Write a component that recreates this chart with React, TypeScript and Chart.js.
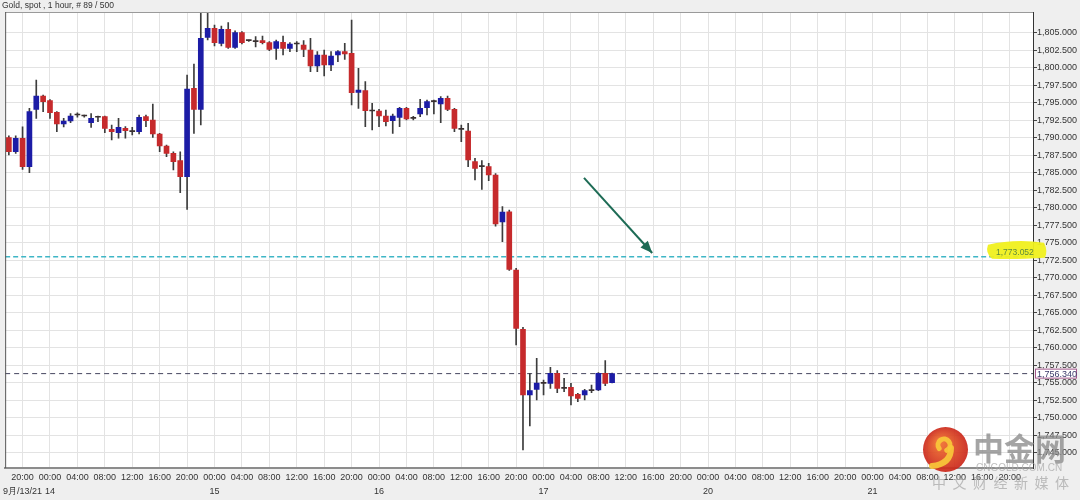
import React, { useEffect, useRef } from "react";
import { Chart, registerables } from "chart.js";

Chart.register(...registerables);

// ---- data (hourly candles, x = trading-hour index, 0 = Sep 13 20:00) ----
const firstCandleHour = -2;
const opens = [
  1790.05, 1788.04, 1789.96, 1785.9, 1794.1, 1796.0, 1795.33, 1793.67, 1792.0, 1792.43,
  1793.29, 1793.14, 1792.19, 1792.96, 1793.05, 1791.24, 1790.76, 1791.38, 1790.9, 1790.9,
  1793.05, 1792.57, 1790.57, 1788.86, 1787.81, 1786.76, 1784.48, 1797.1, 1794.1, 1804.38,
  1805.67, 1803.52, 1805.52, 1802.95, 1805.05, 1803.9, 1803.76, 1803.9, 1803.62, 1802.81,
  1803.67, 1802.81, 1803.43, 1803.29, 1802.57, 1800.29, 1801.86, 1800.43, 1801.86, 1802.33,
  1802.1, 1796.5, 1796.76, 1793.86, 1793.86, 1793.14, 1792.48, 1792.95, 1794.24, 1792.81,
  1793.43, 1794.33, 1795.19, 1794.86, 1795.67, 1794.1, 1791.24, 1791.0, 1786.62, 1785.9,
  1785.9, 1784.71, 1778.0, 1779.47, 1771.14, 1762.67, 1753.29, 1754.1, 1754.95, 1754.95,
  1756.38, 1754.24, 1754.38, 1753.38, 1753.29, 1753.9, 1754.0, 1756.38, 1755.05,
];
const highs = [
  1790.3, 1790.3, 1791.6, 1794.24, 1798.29, 1796.14, 1795.5, 1793.76, 1792.8, 1793.5,
  1793.6, 1793.29, 1793.5, 1793.14, 1793.14, 1791.86, 1792.8, 1791.62, 1791.52, 1793.29,
  1793.29, 1794.86, 1790.67, 1789.0, 1788.04, 1788.04, 1799.0, 1800.57, 1807.8, 1808.1,
  1806.14, 1806.0, 1806.5, 1805.3, 1805.2, 1804.0, 1804.5, 1804.57, 1803.76, 1804.0,
  1804.57, 1803.62, 1803.76, 1803.9, 1804.24, 1802.33, 1802.57, 1802.33, 1802.48, 1803.52,
  1806.86, 1799.95, 1798.05, 1794.95, 1794.1, 1794.0, 1793.43, 1794.38, 1794.38, 1793.1,
  1795.52, 1795.43, 1795.43, 1795.9, 1796.0, 1794.24, 1791.86, 1792.1, 1787.1, 1786.76,
  1786.38, 1784.9, 1780.19, 1779.7, 1771.38, 1762.95, 1756.38, 1758.52, 1755.43, 1757.24,
  1756.76, 1755.67, 1754.95, 1753.52, 1754.1, 1754.71, 1756.48, 1758.19, 1756.4,
];
const lows = [
  1787.6, 1787.8, 1785.5, 1785.04, 1792.8, 1793.76, 1792.8, 1790.9, 1791.6, 1792.2,
  1792.96, 1792.96, 1791.5, 1792.33, 1790.76, 1789.71, 1789.96, 1789.96, 1790.43, 1790.57,
  1791.62, 1790.1, 1788.04, 1787.33, 1785.43, 1782.19, 1779.81, 1790.67, 1791.86, 1804.0,
  1803.14, 1803.14, 1802.8, 1802.8, 1803.43, 1803.8, 1803.0, 1803.43, 1802.48, 1801.24,
  1801.86, 1802.33, 1802.33, 1801.62, 1799.48, 1799.48, 1798.86, 1799.62, 1800.9, 1801.24,
  1794.71, 1794.24, 1791.62, 1791.14, 1791.62, 1791.71, 1790.67, 1791.62, 1792.57, 1792.57,
  1793.05, 1793.29, 1793.43, 1792.19, 1793.9, 1790.9, 1789.48, 1785.9, 1784.0, 1782.67,
  1783.9, 1777.4, 1775.19, 1771.1, 1760.43, 1745.43, 1748.86, 1752.57, 1753.29, 1754.24,
  1753.62, 1753.76, 1751.86, 1752.33, 1752.57, 1753.62, 1753.9, 1754.62, 1755.0,
];
const closes = [
  1788.04, 1789.96, 1785.9, 1793.76, 1796.0, 1795.19, 1793.62, 1792.0, 1792.43, 1793.14,
  1793.29, 1793.14, 1792.8, 1792.96, 1791.38, 1790.9, 1791.52, 1791.05, 1790.9, 1792.96,
  1792.48, 1790.57, 1788.86, 1787.81, 1786.62, 1784.48, 1797.0, 1794.1, 1804.24, 1805.67,
  1803.62, 1805.52, 1802.95, 1805.05, 1803.62, 1803.9, 1803.76, 1803.62, 1802.67, 1803.76,
  1802.81, 1803.43, 1803.43, 1802.67, 1800.29, 1801.86, 1800.43, 1801.71, 1802.33, 1802.0,
  1796.48, 1796.85, 1793.9, 1793.86, 1793.14, 1792.33, 1793.14, 1794.24, 1792.71, 1792.81,
  1794.24, 1795.19, 1795.19, 1795.67, 1794.1, 1791.38, 1791.24, 1786.86, 1785.67, 1785.9,
  1784.71, 1777.71, 1779.43, 1771.24, 1762.81, 1753.29, 1753.9, 1755.0, 1754.95, 1756.38,
  1754.24, 1754.24, 1753.14, 1752.81, 1753.9, 1753.9, 1756.38, 1754.95, 1756.34,
];

const markedLevel = 1773.052;
const currentLevel = 1756.34;
const arrowFrom = { x: 81.9, y: 1784.3 };
const arrowTo = { x: 91.85, y: 1773.57 };

const tickHours = [
  0, 4, 8, 12, 16, 20, 24, 28, 32, 36, 40, 44, 48, 52, 56, 60, 64, 68, 72, 76, 80, 84, 88,
  92, 96, 100, 104, 108, 112, 116, 120, 124, 128, 132, 136, 140, 144,
];
const timeCycle = ["20:00", "00:00", "04:00", "08:00", "12:00", "16:00"];
const dateTickHours = [0, 4, 28, 52, 76, 100, 124];
const dateTickLabels = ["9月/13/21", "14", "15", "16", "17", "20", "21"];
const yTicks = [
  1745, 1747.5, 1750, 1752.5, 1755, 1757.5, 1760, 1762.5, 1765, 1767.5, 1770, 1772.5, 1775,
  1777.5, 1780, 1782.5, 1785, 1787.5, 1790, 1792.5, 1795, 1797.5, 1800, 1802.5, 1805,
];

const X_MIN = -2.54;
const X_MAX = 147.4;
const Y_MIN = 1742.857;
const Y_MAX = 1808.0;

const FONT = "'Liberation Sans', Arial, sans-serif";
const CJK = "'Noto Sans CJK SC', sans-serif";
const UP = "#1c1ca6";
const DOWN = "#c62a2c";
const DOJI = "#3a3030";

const fmt = (v: number) =>
  v.toLocaleString("en-US", { minimumFractionDigits: 3, maximumFractionDigits: 3 });

const bgPlugin = {
  id: "bgPlugin",
  beforeDraw(chart: any) {
    const { ctx, chartArea: a } = chart;
    ctx.save();
    ctx.fillStyle = "#efefef";
    ctx.fillRect(0, 0, chart.width, chart.height);
    ctx.fillStyle = "#ffffff";
    ctx.fillRect(a.left, a.top, a.right - a.left, a.bottom - a.top);
    ctx.restore();
  },
  afterDraw(chart: any) {
    const { ctx, chartArea: a } = chart;
    ctx.save();
    // frame
    ctx.strokeStyle = "#9a9a9a";
    ctx.lineWidth = 1;
    ctx.beginPath();
    ctx.moveTo(a.left, a.top + 0.5);
    ctx.lineTo(a.right, a.top + 0.5);
    ctx.stroke();
    ctx.strokeStyle = "#555";
    ctx.beginPath();
    ctx.moveTo(a.left + 0.5, a.top);
    ctx.lineTo(a.left + 0.5, a.bottom);
    ctx.stroke();
    // title
    ctx.fillStyle = "#333";
    ctx.font = `8.5px ${FONT}`;
    ctx.textBaseline = "middle";
    ctx.textAlign = "left";
    ctx.fillText(`Gold, spot , 1 hour, # ${closes.length} / 500`, 2, 5.5);

    const ys = chart.scales.y;
    // highlighted level label
    const yl = ys.getPixelForValue(markedLevel);
    ctx.fillStyle = "rgba(240,240,30,0.95)";
    ctx.beginPath();
    ctx.moveTo(988, yl - 12);
    ctx.quadraticCurveTo(1015, yl - 18, 1044, yl - 14);
    ctx.quadraticCurveTo(1048, yl - 6, 1045, yl + 1);
    ctx.quadraticCurveTo(1015, yl + 3, 992, yl + 2);
    ctx.quadraticCurveTo(985, yl - 4, 988, yl - 12);
    ctx.fill();
    ctx.fillStyle = "#5d8a3c";
    ctx.font = `8.5px ${FONT}`;
    ctx.fillText(fmt(markedLevel), 996, yl - 4);

    // current price box
    const yc = ys.getPixelForValue(currentLevel);
    ctx.fillStyle = "#ffffff";
    ctx.fillRect(1035, yc - 5, 42, 10);
    ctx.strokeStyle = "#a3588c";
    ctx.strokeRect(1035.5, yc - 4.5, 41, 9);
    ctx.fillStyle = "#3a3a6a";
    ctx.font = `9px ${FONT}`;
    ctx.fillText(fmt(currentLevel), 1037, yc + 0.5);
    ctx.restore();
  },
};

const arrowPlugin = {
  id: "arrowPlugin",
  afterDatasetsDraw(chart: any) {
    const idx = chart.data.datasets.findIndex((d: any) => d.label === "arrow");
    if (idx < 0) return;
    const pts = chart.getDatasetMeta(idx).data;
    if (pts.length < 2) return;
    const p0 = pts[0];
    const p1 = pts[1];
    const ang = Math.atan2(p1.y - p0.y, p1.x - p0.x);
    const { ctx } = chart;
    ctx.save();
    ctx.fillStyle = "#1d6b55";
    ctx.beginPath();
    ctx.moveTo(p1.x, p1.y);
    ctx.lineTo(p1.x - 12 * Math.cos(ang) + 5 * Math.sin(ang), p1.y - 12 * Math.sin(ang) - 5 * Math.cos(ang));
    ctx.lineTo(p1.x - 12 * Math.cos(ang) - 5 * Math.sin(ang), p1.y - 12 * Math.sin(ang) + 5 * Math.cos(ang));
    ctx.closePath();
    ctx.fill();
    ctx.restore();
  },
};

const watermarkPlugin = {
  id: "watermarkPlugin",
  afterDraw(chart: any) {
    const { ctx } = chart;
    ctx.save();
    ctx.globalAlpha = 0.92;
    const g = ctx.createRadialGradient(940, 442, 3, 945.5, 449.5, 23);
    g.addColorStop(0, "#ee6a2a");
    g.addColorStop(1, "#c9241a");
    ctx.fillStyle = g;
    ctx.beginPath();
    ctx.arc(945.5, 449.5, 22.5, 0, Math.PI * 2);
    ctx.fill();
    ctx.strokeStyle = "#f8c83a";
    ctx.lineCap = "round";
    ctx.lineWidth = 5;
    ctx.beginPath();
    ctx.arc(944, 445, 6, Math.PI * 0.8, Math.PI * 2.35);
    ctx.stroke();
    ctx.lineWidth = 6;
    ctx.beginPath();
    ctx.moveTo(951, 448);
    ctx.quadraticCurveTo(951, 464, 932, 466);
    ctx.stroke();
    ctx.globalAlpha = 0.78;
    ctx.fillStyle = "#8a8a8a";
    ctx.font = `bold 31px ${CJK}`;
    ctx.textBaseline = "middle";
    ctx.textAlign = "left";
    ctx.fillText("中金网", 973, 448);
    ctx.globalAlpha = 0.75;
    ctx.fillStyle = "#a8a8a8";
    ctx.font = `10px ${FONT}`;
    ctx.fillText("CNGOLD.COM.CN", 976, 468);
    ctx.font = `14px ${CJK}`;
    const chars = ["中", "文", "财", "经", "新", "媒", "体"];
    chars.forEach((c, i) => ctx.fillText(c, 932 + i * 20.5, 483));
    ctx.restore();
  },
};

export default function App() {
  const ref = useRef<HTMLCanvasElement | null>(null);

  useEffect(() => {
    if (!ref.current) return;
    const hours = closes.map((_, i) => firstCandleHour + i);
    const colors = closes.map((c, i) => (c > opens[i] ? UP : c < opens[i] ? DOWN : DOJI));

    const chart = new Chart(ref.current, {
      type: "bar",
      data: {
        datasets: [
          {
            type: "bar",
            label: "bodies",
            data: hours.map((h, i) => ({ x: h, y: [opens[i], closes[i]] })) as any,
            backgroundColor: colors,
            barThickness: 5,
            minBarLength: 1,
            grouped: false,
            borderWidth: 0,
            order: 1,
          } as any,
          {
            type: "bar",
            label: "wicks",
            data: hours.map((h, i) => ({ x: h, y: [lows[i], highs[i]] })) as any,
            backgroundColor: "#3c3c3c",
            barThickness: 1,
            grouped: false,
            borderWidth: 0,
            order: 2,
          } as any,
          {
            type: "line",
            label: "marked",
            data: [
              { x: X_MIN, y: markedLevel },
              { x: X_MAX, y: markedLevel },
            ],
            borderColor: "#3fb6c6",
            borderWidth: 1.5,
            borderDash: [5, 3],
            pointRadius: 0,
            fill: false,
            order: 3,
          } as any,
          {
            type: "line",
            label: "current",
            data: [
              { x: X_MIN, y: currentLevel },
              { x: X_MAX, y: currentLevel },
            ],
            borderColor: "#45455f",
            borderWidth: 1,
            borderDash: [5, 4],
            pointRadius: 0,
            fill: false,
            order: 3,
          } as any,
          {
            type: "line",
            label: "arrow",
            data: [arrowFrom, arrowTo],
            borderColor: "#1d6b55",
            borderWidth: 2,
            pointRadius: 0,
            fill: false,
            order: 0,
          } as any,
        ],
      },
      options: {
        responsive: false,
        animation: false,
        devicePixelRatio: 1,
        layout: { padding: { left: 3, top: 12, right: 0, bottom: 0 } },
        plugins: {
          legend: { display: false },
          tooltip: { enabled: false },
          title: { display: false },
        },
        scales: {
          x: {
            type: "linear",
            min: X_MIN,
            max: X_MAX,
            offset: false,
            afterBuildTicks: (s: any) => {
              s.ticks = tickHours.map((v) => ({ value: v }));
            },
            afterFit: (s: any) => {
              s.height = 32;
            },
            ticks: {
              autoSkip: false,
              maxRotation: 0,
              minRotation: 0,
              padding: 3,
              color: "#333",
              font: { family: FONT, size: 9, lineHeight: 14 / 9 },
              callback: (v: any) => {
                const i = tickHours.indexOf(Number(v));
                const d = dateTickHours.indexOf(Number(v));
                return [timeCycle[i % timeCycle.length], d >= 0 ? dateTickLabels[d] : ""];
              },
            },
            grid: { color: "#e3e3e3", drawTicks: false, offset: false },
            border: { color: "#8c8c8c", width: 2 },
          },
          y: {
            type: "linear",
            position: "right",
            min: Y_MIN,
            max: Y_MAX,
            afterBuildTicks: (s: any) => {
              s.ticks = yTicks.map((v) => ({ value: v }));
            },
            afterFit: (s: any) => {
              s.width = 47;
            },
            ticks: {
              autoSkip: false,
              padding: 0,
              color: "#333",
              font: { family: FONT, size: 9 },
              callback: (v: any) => fmt(Number(v)),
            },
            grid: { color: "#e3e3e3", tickLength: 4, tickColor: "#444" },
            border: { color: "#333", width: 1 },
          },
        },
      } as any,
      plugins: [bgPlugin, arrowPlugin, watermarkPlugin],
    });
    return () => chart.destroy();
  }, []);

  return (
    <div style={{ position: "fixed", left: 0, top: 0, width: 1080, height: 500 }}>
      <canvas ref={ref} width={1080} height={500} style={{ display: "block" }} />
    </div>
  );
}
